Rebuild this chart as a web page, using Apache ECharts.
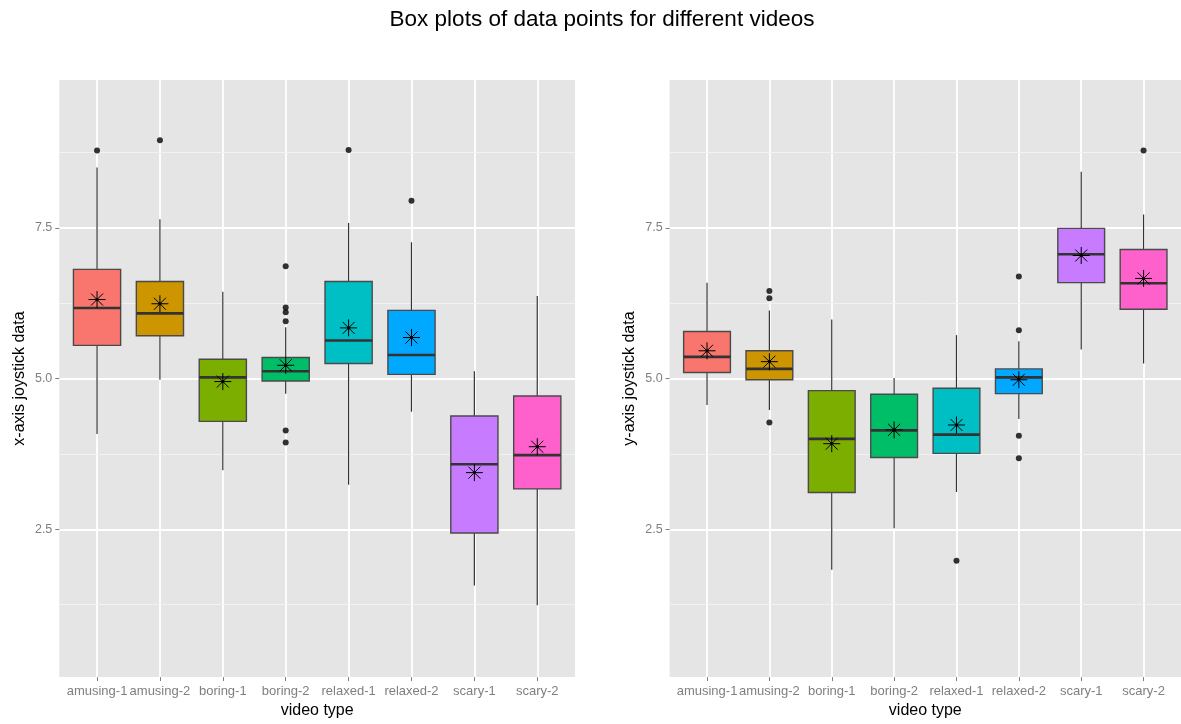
<!DOCTYPE html>
<html>
<head>
<meta charset="utf-8">
<script src="https://cdn.jsdelivr.net/npm/echarts@6/dist/echarts.min.js"></script>
<style>
html,body{margin:0;padding:0;background:#fff;overflow:hidden;}
#chart{width:1181px;height:724px;}
</style>
</head>
<body>
<div id="chart"></div>
<script>
// ---- data ----
const categories = ['amusing-1','amusing-2','boring-1','boring-2','relaxed-1','relaxed-2','scary-1','scary-2'];
const colors = ['#F8766D','#CD9600','#7CAE00','#00BE67','#00BFC4','#00A9FF','#C77CFF','#FF61CC'];
const yTicks = [2.5, 5.0, 7.5];
const yMinorLines = [1.25, 3.75, 6.25, 8.75];

// left panel: x-axis joystick data
const xLow    = [4.08, 4.98, 3.48, 4.75, 3.24, 4.45, 1.57, 1.24];
const xQ1     = [5.55, 5.71, 4.29, 4.96, 5.25, 5.07, 2.44, 3.17];
const xMedian = [6.17, 6.08, 5.02, 5.12, 5.63, 5.39, 3.58, 3.73];
const xQ3     = [6.81, 6.61, 5.32, 5.35, 6.61, 6.13, 4.38, 4.71];
const xHigh   = [8.50, 7.64, 6.44, 5.85, 7.58, 7.26, 5.12, 6.37];
const xMean   = [6.31, 6.24, 4.95, 5.22, 5.84, 5.68, 3.44, 3.87];
const xOutliers = [[0, 8.78], [1, 8.95], [3, 6.86], [3, 6.18], [3, 6.10], [3, 5.95], [3, 4.14], [3, 3.94], [4, 8.79], [5, 7.95]];

// right panel: y-axis joystick data
const yLow    = [4.56, 4.48, 1.83, 2.52, 3.12, 4.33, 5.48, 5.25];
const yQ1     = [5.10, 4.98, 3.11, 3.69, 3.76, 4.75, 6.59, 6.15];
const yMedian = [5.36, 5.16, 4.00, 4.14, 4.07, 5.02, 7.06, 6.58];
const yQ3     = [5.78, 5.46, 4.80, 4.74, 4.84, 5.16, 7.49, 7.14];
const yHigh   = [6.59, 6.13, 5.98, 5.01, 5.72, 5.62, 8.43, 7.72];
const yMean   = [5.46, 5.28, 3.92, 4.15, 4.23, 4.98, 7.04, 6.66];
const yOutliers = [[1, 6.45], [1, 6.33], [1, 4.27], [4, 1.98], [5, 6.69], [5, 5.80], [5, 4.05], [5, 3.68], [7, 8.78]];

// ---- chart ----
const FONT = 'Liberation Sans, Arial, Helvetica, sans-serif';
const catIdx = categories.map((c, i) => i);
const BOX_W = 0.75;

function boxData(lo, q1, med, q3, hi) {
  return categories.map((c, i) => [i, lo[i], q1[i], med[i], q3[i], hi[i]]);
}

function renderBox(params, api) {
  const i = api.value(0);
  const lo = api.coord([i, api.value(1)]);
  const q1 = api.coord([i, api.value(2)]);
  const md = api.coord([i, api.value(3)]);
  const q3 = api.coord([i, api.value(4)]);
  const hi = api.coord([i, api.value(5)]);
  const w = api.size([BOX_W, 0])[0];
  const cx = q1[0];
  return {
    type: 'group',
    children: [
      { type: 'line', shape: { x1: cx, y1: hi[1], x2: cx, y2: q3[1] }, style: { stroke: '#333', lineWidth: 1.2 } },
      { type: 'line', shape: { x1: cx, y1: q1[1], x2: cx, y2: lo[1] }, style: { stroke: '#333', lineWidth: 1.2 } },
      { type: 'rect', shape: { x: cx - w / 2, y: q3[1], width: w, height: q1[1] - q3[1] },
        style: { fill: colors[i], stroke: '#4a4a4a', lineWidth: 1.4 } },
      { type: 'line', shape: { x1: cx - w / 2, y1: md[1], x2: cx + w / 2, y2: md[1] }, style: { stroke: '#333', lineWidth: 2.6 } }
    ]
  };
}

function renderStar(params, api) {
  const p = api.coord([api.value(0), api.value(1)]);
  const r = 8.5, d = r / Math.SQRT2;
  const st = { stroke: '#000', lineWidth: 1 };
  return {
    type: 'group',
    children: [
      { type: 'line', shape: { x1: p[0] - r, y1: p[1], x2: p[0] + r, y2: p[1] }, style: st },
      { type: 'line', shape: { x1: p[0], y1: p[1] - r, x2: p[0], y2: p[1] + r }, style: st },
      { type: 'line', shape: { x1: p[0] - d, y1: p[1] - d, x2: p[0] + d, y2: p[1] + d }, style: st },
      { type: 'line', shape: { x1: p[0] - d, y1: p[1] + d, x2: p[0] + d, y2: p[1] - d }, style: st },
      { type: 'circle', shape: { cx: p[0], cy: p[1], r: 1.6 }, style: { fill: '#000' } }
    ]
  };
}

function makeX(gi) {
  return {
    type: 'value', gridIndex: gi, min: -0.6, max: 7.6,
    name: 'video type', nameLocation: 'middle', nameGap: 24,
    nameTextStyle: { fontFamily: FONT, fontSize: 16, color: '#000' },
    axisLine: { show: false, onZero: false },
    axisTick: { show: true, customValues: catIdx, length: 4, lineStyle: { color: '#7f7f7f', width: 1 } },
    axisLabel: { customValues: catIdx, formatter: v => categories[Math.round(v)], color: '#7f7f7f',
                 fontFamily: FONT, fontSize: 13, margin: 8 },
    splitLine: { show: true, lineStyle: { color: '#ffffff', width: 1.8 } }
  };
}

function makeY(gi, name) {
  return {
    type: 'value', gridIndex: gi, min: 0.05, max: 9.95,
    name: name, nameLocation: 'middle', nameGap: 32, nameRotate: 90,
    nameTextStyle: { fontFamily: FONT, fontSize: 16, color: '#000' },
    axisLine: { show: false, onZero: false },
    axisTick: { show: true, customValues: yTicks, length: 4, lineStyle: { color: '#7f7f7f', width: 1 } },
    axisLabel: { customValues: yTicks, formatter: v => v.toFixed(1), color: '#7f7f7f',
                 fontFamily: FONT, fontSize: 12.5, margin: 7 },
    splitLine: { show: true, lineStyle: { color: '#ffffff', width: 1.8 } }
  };
}

function minorSeries(gi) {
  return {
    type: 'line', xAxisIndex: gi, yAxisIndex: gi, data: [], silent: true, z: 0,
    markLine: {
      z: 0, silent: true, symbol: ['none', 'none'], label: { show: false }, animation: false,
      lineStyle: { color: '#F2F2F2', width: 1, type: 'solid' },
      data: yMinorLines.map(v => ({ yAxis: v }))
    }
  };
}

function panelSeries(gi, lo, q1, med, q3, hi, mean, outliers) {
  return [
    minorSeries(gi),
    { type: 'custom', xAxisIndex: gi, yAxisIndex: gi, z: 3, renderItem: renderBox,
      encode: { x: 0, y: [1, 2, 3, 4, 5] }, data: boxData(lo, q1, med, q3, hi), animation: false },
    { type: 'scatter', xAxisIndex: gi, yAxisIndex: gi, z: 4, symbol: 'circle', symbolSize: 6,
      itemStyle: { color: '#000' }, data: outliers, animation: false, clip: false },
    { type: 'custom', xAxisIndex: gi, yAxisIndex: gi, z: 5, renderItem: renderStar,
      encode: { x: 0, y: 1 }, data: mean.map((m, i) => [i, m]), animation: false }
  ];
}

const chart = echarts.init(document.getElementById('chart'), null, { renderer: 'canvas' });
chart.setOption({
  backgroundColor: '#ffffff',
  animation: false,
  title: {
    text: 'Box plots of data points for different videos',
    left: 597, top: 3, textAlign: 'center',
    textStyle: { fontFamily: FONT, fontSize: 22.5, fontWeight: 'normal', color: '#000' }
  },
  grid: [
    { left: 59.3, top: 80, width: 515.7, height: 604, show: true, backgroundColor: '#E5E5E5', borderWidth: 0 },
    { left: 669.6, top: 80, width: 515, height: 604, show: true, backgroundColor: '#E5E5E5', borderWidth: 0 }
  ],
  xAxis: [makeX(0), makeX(1)],
  yAxis: [makeY(0, 'x-axis joystick data'), makeY(1, 'y-axis joystick data')],
  series: [].concat(
    panelSeries(0, xLow, xQ1, xMedian, xQ3, xHigh, xMean, xOutliers),
    panelSeries(1, yLow, yQ1, yMedian, yQ3, yHigh, yMean, yOutliers)
  )
});
</script>
</body>
</html>
